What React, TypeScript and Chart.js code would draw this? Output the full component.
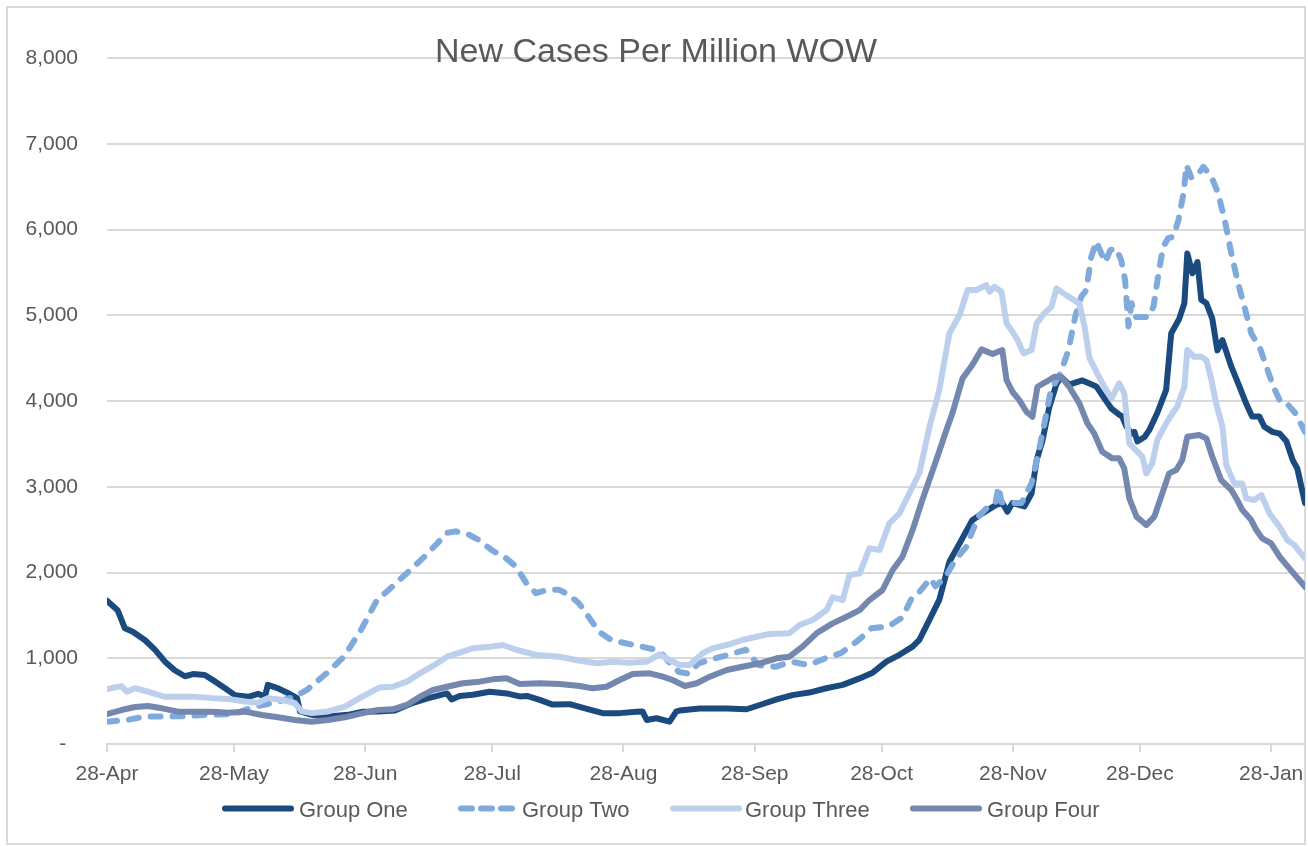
import React, { useEffect, useRef } from 'react';
import { Chart, registerables } from 'chart.js';

Chart.register(...registerables);

const FONT = '"Liberation Sans", Arial, sans-serif';
const TEXT_COLOR = '#595959';
const GRID_COLOR = '#d9d9d9';

const chartTitle = 'New Cases Per Million WOW';

// x values are days since 28-Apr
const tickDays = [0, 30, 61, 91, 122, 153, 183, 214, 244, 275];
const tickLabels = ['28-Apr', '28-May', '28-Jun', '28-Jul', '28-Aug', '28-Sep', '28-Oct', '28-Nov', '28-Dec', '28-Jan'];
const yTicks = [0, 1000, 2000, 3000, 4000, 5000, 6000, 7000, 8000];

const seriesNames = ['Group One', 'Group Two', 'Group Three', 'Group Four'];
const seriesColors = ['#1B4A7E', '#80AADC', '#BCD0EE', '#7487AF'];

const groupOne = [
  [0, 1670], [2.5, 1560], [4.2, 1350], [6.1, 1310], [9, 1210], [11.3, 1100], [13.7, 960], [16, 860], [18.4, 790],
  [20.3, 815], [23.1, 805], [25.5, 730], [27.9, 650], [30.2, 570], [33.3, 550], [35.7, 585], [37.3, 550], [38, 690],
  [40.1, 655], [42.7, 595], [44.9, 535], [45.6, 380], [48.4, 340], [52.2, 320], [56.9, 340], [60.2, 375], [64, 380],
  [68, 390], [72.3, 480], [75.5, 530], [80.3, 590], [81.4, 520], [83.3, 560], [86.4, 575], [90.4, 610], [94.4, 590],
  [97.5, 555], [99.2, 560], [102.2, 515], [105.3, 460], [109.3, 465], [114, 400], [117.1, 360], [121.1, 360],
  [125.1, 375], [126.5, 380], [127.5, 280], [129.8, 300], [132.9, 260], [134.5, 380], [135.3, 390], [140, 415],
  [146.4, 415], [151.1, 405], [154.2, 455], [158.2, 520], [161.9, 570], [165.9, 600], [169.9, 650], [173.8, 690],
  [177.8, 765], [180.8, 830], [184.1, 960], [187.2, 1040], [190.3, 1135], [191.9, 1215], [194.3, 1450], [196.6, 1680],
  [199, 2125], [201.4, 2340], [204.4, 2610], [206.8, 2690], [210.1, 2790], [211.5, 2810], [212.7, 2710], [213.9, 2810],
  [216.7, 2770], [218.4, 2920], [219.6, 3310], [221, 3540], [222.6, 3930], [224.3, 4200], [225.4, 4280], [227.3, 4190],
  [230.4, 4240], [232.8, 4190], [233.7, 4170], [235.6, 4030], [237.3, 3910], [239.1, 3840], [239.8, 3820], [240.8, 3700],
  [242, 3620], [242.7, 3640], [243.4, 3530], [245.1, 3580], [246.2, 3660], [248.1, 3860], [250.2, 4130], [251.4, 4790],
  [253.3, 4960], [254.5, 5140], [255.2, 5720], [256.4, 5490], [257.6, 5620], [258.5, 5180], [259.7, 5140], [261.1, 4960],
  [262.3, 4590], [263.5, 4710], [265.6, 4400], [267.5, 4170], [269.1, 3970], [270.5, 3820], [272.2, 3820], [273.4, 3700],
  [275.3, 3640], [277, 3620], [278.6, 3530], [280.1, 3310], [281.2, 3210], [283, 2810],
];

const groupTwo = [
  [0, 260], [4.8, 280], [8.8, 320], [12.8, 320], [18.2, 325], [23.6, 340], [30, 350], [34.7, 435], [39.4, 480],
  [44.2, 550], [47.2, 630], [52, 830], [56, 1020], [60, 1330], [63.8, 1680], [66.6, 1800], [69, 1910], [72.1, 2050],
  [75.3, 2200], [78.4, 2360], [80, 2460], [82.4, 2480], [85.5, 2440], [87.8, 2380], [90.9, 2260], [94.2, 2170],
  [96.6, 2070], [99, 1880], [101.3, 1760], [104.4, 1800], [106.7, 1800], [109.1, 1740], [111.5, 1640], [113.8, 1480],
  [116.2, 1310], [119.2, 1210], [122.5, 1175], [126.3, 1135], [129.6, 1100], [131, 1060], [133.4, 920], [135.1, 840],
  [137.4, 820], [139.7, 940], [143.8, 1000], [146.8, 1040], [150.9, 1100], [153.9, 920], [157.9, 900], [161.7, 960],
  [165.7, 920], [169.7, 1000], [173.4, 1060], [177.5, 1210], [180.6, 1350], [184.6, 1370], [187.7, 1470], [188.6, 1550],
  [190.1, 1700], [191.7, 1760], [194.5, 1930], [195.7, 1840], [198.1, 1950], [200.4, 2150], [203, 2300], [205.8, 2650],
  [208.2, 2770], [209.9, 2820], [210.6, 3000], [211.3, 2820], [213, 2810], [216, 2810], [218.4, 3040], [220, 3390],
  [221.6, 3780], [223, 4130], [225.2, 4320], [227.1, 4590], [228.7, 4980], [230.2, 5220], [231.3, 5290], [232.5, 5680],
  [233.7, 5860], [234.9, 5720], [235.8, 5620], [237, 5760], [238.4, 5780], [239.6, 5640], [240.5, 5410], [241.3, 4870],
  [242, 5140], [243.1, 4980], [246, 4980], [247.2, 5100], [248.4, 5490], [249.5, 5800], [250.7, 5900], [251.9, 5915],
  [253.1, 6110], [254.3, 6420], [255, 6750], [256.2, 6600], [257.8, 6650], [259, 6730], [260.9, 6615], [262.5, 6420],
  [264.2, 6070], [265.6, 5720], [267.2, 5370], [268.9, 5060], [270.3, 4790], [272.4, 4610], [273.6, 4440], [275.5, 4170],
  [277.4, 3970], [279.1, 3950], [280.7, 3860], [283, 3640],
];

const groupThree = [
  [0, 640], [3.4, 675], [4.7, 610], [6.6, 650], [9.7, 610], [13.7, 550], [16.8, 550], [20.8, 550], [24.8, 535],
  [28.6, 525], [32.6, 495], [35.6, 480], [38, 535], [41.3, 515], [44.4, 475], [46, 380], [48.4, 360], [52.2, 380],
  [56.2, 435], [60.2, 550], [64.4, 660], [67.5, 668], [70.8, 727], [73.9, 824], [77, 910], [80.3, 1018], [83.3, 1065],
  [86.4, 1116], [90.5, 1135], [93.5, 1154], [96.8, 1096], [101.5, 1038], [106.9, 1018], [111.7, 971], [115.7, 941],
  [119.5, 960], [123.5, 948], [127.5, 960], [130.5, 1045], [132.9, 979], [135.3, 921], [137.6, 921], [140.7, 1058],
  [143, 1116], [146.4, 1154], [150.1, 1213], [153.4, 1251], [156.5, 1283], [161.2, 1291], [163.6, 1388], [166.7, 1446],
  [170, 1562], [171.4, 1710], [173.8, 1679], [175.4, 1971], [177.8, 1990], [180.1, 2282], [182.5, 2262], [184.8, 2573],
  [187.2, 2690], [190.3, 3000], [191.9, 3160], [194.3, 3700], [196.6, 4128], [199, 4789], [201.4, 5002], [203.3, 5294],
  [205.4, 5294], [207.7, 5352], [208.5, 5274], [209.6, 5332], [211.3, 5274], [212.5, 4905], [213.9, 4808], [215.1, 4711],
  [216.5, 4555], [218.4, 4594], [219.6, 4905], [221.4, 5022], [223.1, 5099], [224.3, 5313], [226.6, 5235], [229.7, 5138],
  [230.9, 4870], [232.1, 4500], [233.9, 4322], [235.6, 4166], [237.3, 4030], [239.1, 4205], [240.3, 4089], [241.5, 3506],
  [243.4, 3408], [244.6, 3350], [245.5, 3156], [246.9, 3272], [248.1, 3544], [250.2, 3739], [251.7, 3856], [252.8, 3933],
  [254.5, 4166], [255.2, 4594], [256.8, 4516], [258.5, 4516], [259.7, 4478], [260.9, 4244], [262, 3972], [263.5, 3700],
  [264.4, 3253], [266.3, 3039], [268.2, 3039], [269.1, 2865], [271, 2845], [272.7, 2903], [274.6, 2690], [277, 2534],
  [278.8, 2379], [280.5, 2320], [283, 2165],
];

const groupFour = [
  [0, 350], [3.4, 396], [6.6, 431], [9.7, 443], [13, 416], [16.8, 377], [20.8, 377], [24.8, 377], [28.6, 365],
  [32.6, 377], [36.6, 338], [40.4, 311], [44.4, 280], [48.4, 260], [52.2, 280], [56.2, 311], [60.2, 358], [64, 396],
  [67.5, 404], [70.8, 455], [73.9, 552], [77, 630], [80.3, 668], [84, 708], [88, 727], [91.1, 754], [94.4, 766],
  [97.5, 700], [102.2, 708], [106.9, 700], [111.7, 676], [114.7, 649], [118, 668], [121.1, 746], [124.2, 816],
  [128.2, 824], [131.3, 785], [133.6, 746], [136.5, 676], [139.3, 708], [142.4, 785], [146.4, 863], [150.1, 901],
  [154.2, 941], [158.2, 999], [161.2, 1018], [164.3, 1135], [167.6, 1291], [171.4, 1407], [174.7, 1484], [177.8, 1562],
  [180.1, 1679], [183.2, 1796], [185.6, 2029], [187.9, 2184], [190.3, 2495], [192.6, 2845], [195.9, 3311], [198.3, 3661],
  [199.7, 3856], [202.1, 4264], [204.4, 4419], [206.6, 4602], [209.2, 4547], [211.5, 4594], [212.5, 4244], [213.9, 4108],
  [215.5, 4011], [217.2, 3875], [218.6, 3816], [219.8, 4166], [221.9, 4225], [223.8, 4283], [225.4, 4283], [227.3, 4166],
  [229.7, 3972], [231.6, 3739], [233.2, 3622], [235.1, 3408], [237.5, 3331], [239.1, 3331], [240.3, 3214], [241.5, 2865],
  [243.2, 2651], [245.5, 2553], [247.4, 2651], [249.3, 2923], [250.9, 3156], [252.6, 3195], [254, 3311], [255.2, 3583],
  [258, 3603], [259.7, 3564], [261.1, 3350], [263.2, 3078], [265.6, 2962], [267, 2845], [268.2, 2728], [270.3, 2612],
  [271.5, 2495], [272.9, 2398], [275, 2340], [277, 2184], [279.3, 2048], [283, 1834],
];

const seriesData = [groupOne, groupTwo, groupThree, groupFour];
const seriesDash = [[], [10, 12], [], []];
const legendDash = [[], [11, 9], [], []];

const LINE_WIDTH = 6;

// legend layout (line-sample start, sample length, text start)
const legendSampleX = [225, 461, 673, 913];
const legendSampleLen = [66, 51, 66, 66];
const legendTextX = [299, 522, 745, 987];

const decorPlugin = {
  id: 'decor',
  beforeDraw(chart: any) {
    const ctx = chart.ctx;
    ctx.save();
    ctx.fillStyle = '#ffffff';
    ctx.fillRect(0, 0, chart.width, chart.height);
    ctx.strokeStyle = GRID_COLOR;
    ctx.lineWidth = 2;
    ctx.strokeRect(7, 7, 1298, 837);
    ctx.restore();
  },
  afterDraw(chart: any) {
    const ctx = chart.ctx;
    ctx.save();
    // title
    ctx.font = `34px ${FONT}`;
    ctx.fillStyle = TEXT_COLOR;
    ctx.textAlign = 'center';
    ctx.textBaseline = 'alphabetic';
    ctx.fillText(chartTitle, 656, 62);

    // legend
    ctx.font = `22px ${FONT}`;
    ctx.textAlign = 'left';
    const yLine = 808.5;
    seriesNames.forEach((name, i) => {
      ctx.beginPath();
      ctx.strokeStyle = seriesColors[i];
      ctx.lineWidth = LINE_WIDTH;
      ctx.lineCap = 'round';
      ctx.setLineDash(legendDash[i]);
      ctx.moveTo(legendSampleX[i], yLine);
      ctx.lineTo(legendSampleX[i] + legendSampleLen[i], yLine);
      ctx.stroke();
      ctx.setLineDash([]);
      ctx.fillStyle = TEXT_COLOR;
      ctx.fillText(name, legendTextX[i], 817);
    });
    ctx.restore();
  },
};

export default function App() {
  const ref = useRef<HTMLCanvasElement>(null);

  useEffect(() => {
    document.body.style.margin = '0';
    const canvas = ref.current;
    if (!canvas) return;
    const chart = new Chart(canvas, {
      type: 'line',
      data: {
        datasets: seriesNames.map((name, i) => ({
          label: name,
          data: seriesData[i].map(([d, v]) => ({ x: d, y: v })),
          borderColor: seriesColors[i],
          backgroundColor: seriesColors[i],
          borderWidth: LINE_WIDTH,
          borderDash: seriesDash[i],
          borderCapStyle: 'round',
          borderJoinStyle: 'round',
          pointRadius: 0,
          pointHoverRadius: 0,
          tension: 0,
          fill: false,
          order: 4 - i,
        })),
      },
      options: {
        responsive: false,
        animation: false,
        devicePixelRatio: 1,
        parsing: false,
        layout: { padding: { top: 58, left: 0, right: 1, bottom: 62 } },
        plugins: {
          legend: { display: false },
          title: { display: false },
          tooltip: { enabled: false },
        },
        scales: {
          x: {
            type: 'linear',
            min: 0,
            max: 283,
            afterBuildTicks: (s: any) => {
              s.ticks = tickDays.map((v) => ({ value: v }));
            },
            afterFit: (s: any) => {
              s.height = 40;
              s.paddingRight = 0;
              s.paddingLeft = 0;
            },
            ticks: {
              autoSkip: false,
              maxRotation: 0,
              minRotation: 0,
              padding: 10,
              color: TEXT_COLOR,
              font: { family: FONT, size: 21 },
              callback: (v: any) => {
                const idx = tickDays.indexOf(Number(v));
                return idx >= 0 ? tickLabels[idx] : '';
              },
            },
            grid: { drawOnChartArea: false, drawTicks: true, tickLength: 8, color: GRID_COLOR, lineWidth: 2 },
            border: { display: true, color: GRID_COLOR, width: 2 },
          },
          y: {
            type: 'linear',
            min: 0,
            max: 8000,
            afterBuildTicks: (s: any) => {
              s.ticks = yTicks.map((v) => ({ value: v }));
            },
            afterFit: (s: any) => {
              s.width = 107;
            },
            ticks: {
              padding: 29,
              color: TEXT_COLOR,
              font: { family: FONT, size: 21 },
              callback: (v: any) => (Number(v) === 0 ? '-  ' : Number(v).toLocaleString('en-US')),
            },
            grid: { color: GRID_COLOR, lineWidth: 2, drawTicks: false },
            border: { display: false },
          },
        },
      },
      plugins: [decorPlugin],
    });
    return () => chart.destroy();
  }, []);

  return <canvas ref={ref} width={1306} height={846} style={{ display: 'block' }} />;
}
